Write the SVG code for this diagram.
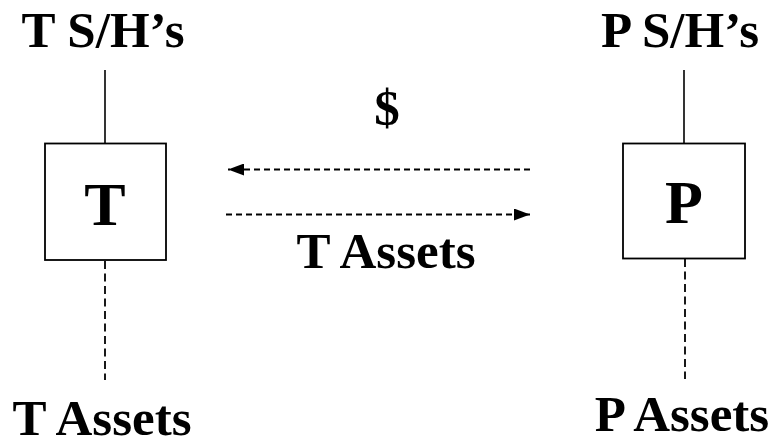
<svg xmlns="http://www.w3.org/2000/svg" width="777" height="446" viewBox="0 0 777 446">
<defs>
<style>
.lbl{font-family:"Liberation Serif","Times New Roman",serif;font-weight:bold;font-size:51px;fill:#000;text-anchor:middle}
.big{font-size:62px}
.box{fill:#fff;stroke:#000;stroke-width:1.8}
.solid{stroke:#000;stroke-width:1.6;fill:none}
.dash{stroke:#000;stroke-width:1.8;fill:none;stroke-dasharray:8,4.5}
.hdash{stroke:#000;stroke-width:1.8;fill:none;stroke-dasharray:6,4}
</style>
<marker id="ah" markerUnits="userSpaceOnUse" markerWidth="16" markerHeight="12" refX="16" refY="6" orient="auto">
<path d="M0,0 L16,6 L0,12 z" fill="#000"/>
</marker>
</defs>
<rect width="777" height="446" fill="#fff"/>
<g id="connectors">
<line class="solid" x1="105" y1="70" x2="105" y2="143"/>
<line class="dash" x1="105" y1="261" x2="105" y2="380"/>
<line class="solid" x1="684" y1="70" x2="684" y2="143"/>
<line class="dash" x1="685" y1="259" x2="685" y2="379"/>
<line class="hdash" x1="530" y1="169.5" x2="228" y2="169.5" marker-end="url(#ah)"/>
<line class="hdash" x1="226" y1="214.5" x2="530" y2="214.5" marker-end="url(#ah)"/>
</g>
<g id="T">
<rect class="box" x="45" y="143.5" width="121" height="116.5"/>
<text class="lbl big" x="105" y="225">T</text>
</g>
<g id="P">
<rect class="box" x="623" y="143.5" width="122" height="115"/>
<text class="lbl big" x="684" y="223">P</text>
</g>
<g id="T-SH">
<text class="lbl" x="103" y="47">T S/H’s</text>
</g>
<g id="P-SH">
<text class="lbl" x="680" y="47">P S/H’s</text>
</g>
<g id="T-assets">
<text class="lbl" x="102" y="435">T Assets</text>
</g>
<g id="P-assets">
<text class="lbl" x="682" y="431">P Assets</text>
</g>
<text class="lbl" x="387" y="125">$</text>
<text class="lbl" x="386" y="268">T Assets</text>
</svg>
